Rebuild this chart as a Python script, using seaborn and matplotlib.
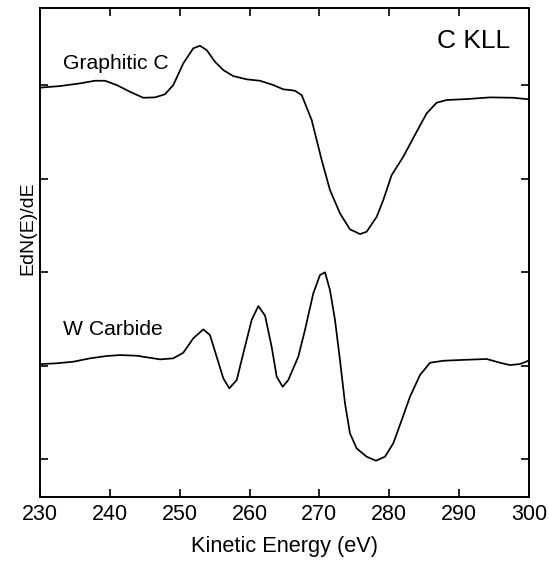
import numpy as np
import pandas as pd
import matplotlib
matplotlib.use("Agg")
import matplotlib.pyplot as plt
import seaborn as sns

# Graphitic C spectrum (energy in eV, intensity in arbitrary offset units)
graphitic_ev = [230.0, 230.47, 232.86, 235.73, 237.87, 239.30, 240.98, 242.88, 244.79, 246.46,
                247.89, 249.08, 250.51, 251.94, 252.90, 253.86, 255.05, 256.24, 257.67, 259.59,
                261.49, 263.40, 264.83, 265.79, 266.50, 267.46, 268.89, 270.32, 271.51, 272.94,
                274.37, 275.81, 276.76, 278.20, 279.14, 280.34, 282.00, 283.92, 285.35, 286.78,
                288.22, 291.08, 294.41, 297.75, 300.0]
graphitic_y = [3.97, 3.975, 3.989, 4.018, 4.046, 4.046, 4.000, 3.928, 3.864, 3.868,
               3.901, 4.000, 4.232, 4.393, 4.420, 4.374, 4.249, 4.160, 4.096, 4.061,
               4.046, 4.000, 3.954, 3.947, 3.939, 3.893, 3.626, 3.198, 2.877, 2.628,
               2.457, 2.406, 2.431, 2.591, 2.770, 3.037, 3.233, 3.501, 3.697, 3.811,
               3.840, 3.850, 3.868, 3.864, 3.847]

# W Carbide spectrum
carbide_ev = [230.0, 230.24, 232.39, 234.77, 237.16, 239.55, 241.45, 243.84, 245.75, 247.18,
              249.08, 250.51, 251.94, 253.38, 254.33, 255.29, 256.24, 257.10, 258.16, 259.10,
              260.30, 261.25, 262.21, 263.17, 263.88, 264.74, 265.54, 266.97, 267.93, 269.12,
              270.08, 270.80, 271.51, 272.23, 272.94, 273.66, 274.37, 275.33, 276.76, 278.10,
              279.38, 280.57, 281.78, 282.96, 284.39, 285.83, 287.73, 290.12, 293.94, 295.85,
              297.28, 298.71, 299.90]
carbide_y = [1.016, 1.016, 1.024, 1.041, 1.077, 1.102, 1.112, 1.105, 1.083, 1.066,
             1.077, 1.137, 1.291, 1.387, 1.326, 1.094, 0.863, 0.756, 0.845, 1.130,
             1.487, 1.636, 1.535, 1.197, 0.880, 0.773, 0.845, 1.094, 1.380, 1.772,
             1.968, 1.997, 1.807, 1.487, 1.059, 0.596, 0.275, 0.114, 0.025, -0.018,
             0.025, 0.168, 0.417, 0.666, 0.898, 1.030, 1.051, 1.059, 1.070, 1.030,
             1.005, 1.016, 1.051]

x_ticks = [230, 240, 250, 260, 270, 280, 290, 300]
y_ticks = [0, 1, 2, 3, 4]

df = pd.concat([
    pd.DataFrame({"ev": graphitic_ev, "y": graphitic_y, "s": "Graphitic C"}),
    pd.DataFrame({"ev": carbide_ev, "y": carbide_y, "s": "W Carbide"}),
])

sns.set_style("ticks")
plt.rcParams['font.family'] = ['Liberation Sans', 'DejaVu Sans']
for k in ["text.color", "axes.labelcolor", "xtick.color", "ytick.color", "axes.edgecolor"]:
    plt.rcParams[k] = "black"

fig = plt.figure(figsize=(5.49, 5.63), dpi=100)
ax = fig.add_axes([40/549, 66/563, 489/549, 489/563])

sns.lineplot(data=df, x="ev", y="y", units="s", estimator=None, sort=False,
             color="black", lw=1.25, ax=ax, legend=False)
for ln in ax.lines:
    ln.set_solid_joinstyle("round")

ax.set_xlim(230, 300)
ax.set_ylim(-0.406, 4.824)
ax.set_xticks(x_ticks)
ax.set_xticklabels([str(t) for t in x_ticks], fontsize=15.5)
ax.set_yticks(y_ticks)
ax.set_yticklabels([])
ax.tick_params(axis="both", direction="in", length=6, width=1.2, color="black",
               top=True, right=True, pad=5)
for sp in ax.spines.values():
    sp.set_linewidth(1.4)
    sp.set_color("black")

ax.set_xlabel("Kinetic Energy (eV)", fontsize=15.7, labelpad=8)
ax.set_ylabel("")
ax.text(-0.0164, 0.55, "EdN(E)/dE", transform=ax.transAxes, rotation=90,
        rotation_mode="anchor", ha="center", va="baseline", fontsize=14)

ax.text(233.25, 4.168, "Graphitic C", fontsize=15.2, va="baseline", ha="left")
ax.text(233.25, 1.326, "W Carbide", fontsize=15.2, va="baseline", ha="left")
ax.text(297.3, 4.392, "C KLL", fontsize=19, va="baseline", ha="right")

fig.savefig("out.png", dpi=100)
